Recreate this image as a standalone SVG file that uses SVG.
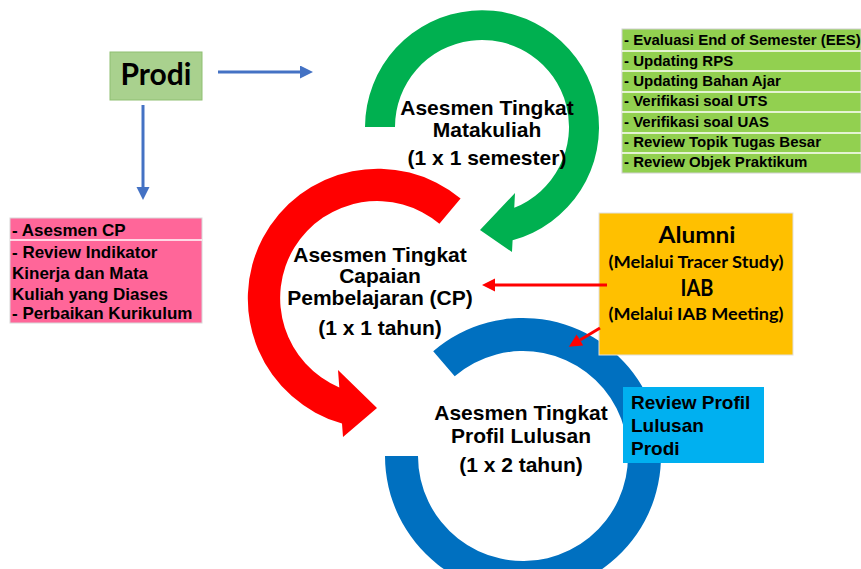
<svg xmlns="http://www.w3.org/2000/svg" width="861" height="569" viewBox="0 0 861 569">
<style>
.ar{font-family:"Liberation Sans",Arial,sans-serif;font-weight:bold;fill:#000}
.cal{font-family:Lato,"Liberation Sans",sans-serif;font-weight:bold;fill:#000}
.ct{font-size:21px;text-anchor:middle}
.lst{font-size:15px}
.pk{font-size:17px}
.sep{stroke:#fff;stroke-width:1.5}
</style>
<defs>
<marker id="hb" markerUnits="userSpaceOnUse" markerWidth="14" markerHeight="14" refX="0" refY="6.5" orient="auto"><path d="M0,0 L13,6.5 L0,13 Z" fill="#4472c4"/></marker>
<marker id="hr" markerUnits="userSpaceOnUse" markerWidth="14" markerHeight="14" refX="0" refY="6.5" orient="auto"><path d="M0,0 L13,6.5 L0,13 Z" fill="#ff0000"/></marker>
</defs>
<rect width="861" height="569" fill="#fff"/>

<g id="cycle-matakuliah">
<path d="M365,127 A117,117 0 1 1 512.6,240.2 L512,252 L480,230 L515,193 L514.25,207.75 A87,87 0 1 0 395,127 Z" fill="#00b050"/>
<text class="ar ct" x="487" y="115">Asesmen Tingkat</text>
<text class="ar ct" x="487" y="137">Matakuliah</text>
<text class="ar ct" x="487" y="165">(1 x 1 semester)</text>
</g>

<g id="cycle-profil">
<path d="M433.2,351.2 A138,138 0 1 1 385,456 L418,456 A105,105 0 1 0 454.7,376.3 Z" fill="#0070c0"/>
<text class="ar ct" x="521" y="420">Asesmen Tingkat</text>
<text class="ar ct" x="521" y="443">Profil Lulusan</text>
<text class="ar ct" x="521" y="472">(1 x 2 tahun)</text>
</g>

<g id="cycle-cp">
<path d="M460.6,198.4 A130,130 0 1 0 342,423.6 L343,437 L377,408 L338,370 L339.3,387.4 A97,97 0 1 1 439.4,223.7 Z" fill="#ff0000"/>
<text class="ar ct" x="380" y="262">Asesmen Tingkat</text>
<text class="ar ct" x="380" y="283">Capaian</text>
<text class="ar ct" x="380" y="305">Pembelajaran (CP)</text>
<text class="ar ct" x="380" y="335">(1 x 1 tahun)</text>
</g>

<g id="prodi">
<rect x="110" y="52" width="92" height="48" fill="#a9d18e" stroke="#8fbf72" stroke-width="1"/>
<text class="cal" x="156" y="85" font-size="30" text-anchor="middle">Prodi</text>
</g>

<g id="list-matakuliah">
<rect x="622" y="29" width="239" height="144" fill="#92d050" stroke="#d0d0d0" stroke-width="1"/>
<line class="sep" x1="622" y1="51" x2="861" y2="51"/>
<line class="sep" x1="622" y1="71" x2="861" y2="71"/>
<line class="sep" x1="622" y1="92" x2="861" y2="92"/>
<line class="sep" x1="622" y1="112" x2="861" y2="112"/>
<line class="sep" x1="622" y1="133" x2="861" y2="133"/>
<line class="sep" x1="622" y1="153" x2="861" y2="153"/>
<text class="ar lst" x="624" y="45">- Evaluasi End of Semester (EES)</text>
<text class="ar lst" x="624" y="66">- Updating RPS</text>
<text class="ar lst" x="624" y="86">- Updating Bahan Ajar</text>
<text class="ar lst" x="624" y="106">- Verifikasi soal UTS</text>
<text class="ar lst" x="624" y="127">- Verifikasi soal UAS</text>
<text class="ar lst" x="624" y="147">- Review Topik Tugas Besar</text>
<text class="ar lst" x="624" y="167">- Review Objek Praktikum</text>
</g>

<g id="list-cp">
<rect x="10" y="218" width="192" height="105" fill="#ff6699" stroke="#d8d8d8" stroke-width="1"/>
<line class="sep" x1="10" y1="240" x2="202" y2="240"/>
<text class="ar pk" x="12" y="236">- Asesmen  CP</text>
<text class="ar pk" x="12" y="258">- Review Indikator</text>
<text class="ar pk" x="12" y="279">Kinerja dan Mata</text>
<text class="ar pk" x="12" y="300">Kuliah yang Diases</text>
<text class="ar pk" x="12" y="319">- Perbaikan Kurikulum</text>
</g>

<g id="alumni-iab">
<rect x="599" y="213" width="194" height="142" fill="#ffc000" stroke="#e0e0e0" stroke-width="1"/>
<text class="cal" x="697" y="243" font-size="23" text-anchor="middle" textLength="77" lengthAdjust="spacingAndGlyphs">Alumni</text>
<text class="cal" x="696" y="268" font-size="17" text-anchor="middle" textLength="175" lengthAdjust="spacingAndGlyphs">(Melalui Tracer Study)</text>
<text class="cal" x="697" y="296" font-size="23" text-anchor="middle" textLength="33" lengthAdjust="spacingAndGlyphs">IAB</text>
<text class="cal" x="696" y="320" font-size="17" text-anchor="middle" textLength="175" lengthAdjust="spacingAndGlyphs">(Melalui IAB Meeting)</text>
</g>

<g id="review-profil">
<rect x="623" y="387" width="141" height="76" fill="#00b0f0"/>
<text class="ar" x="631" y="409" font-size="19">Review Profil</text>
<text class="ar" x="631" y="432" font-size="19">Lulusan</text>
<text class="ar" x="631" y="455" font-size="19">Prodi</text>
</g>

<g id="connectors" stroke-width="3" fill="none">
<line x1="218" y1="72" x2="300" y2="72" stroke="#4472c4" marker-end="url(#hb)"/>
<line x1="143" y1="105" x2="143" y2="187" stroke="#4472c4" marker-end="url(#hb)"/>
<line x1="607" y1="285" x2="495" y2="285" stroke="#ff0000" marker-end="url(#hr)"/>
<line x1="600" y1="328" x2="580" y2="340" stroke="#ff0000" marker-end="url(#hr)"/>
</g>
</svg>
